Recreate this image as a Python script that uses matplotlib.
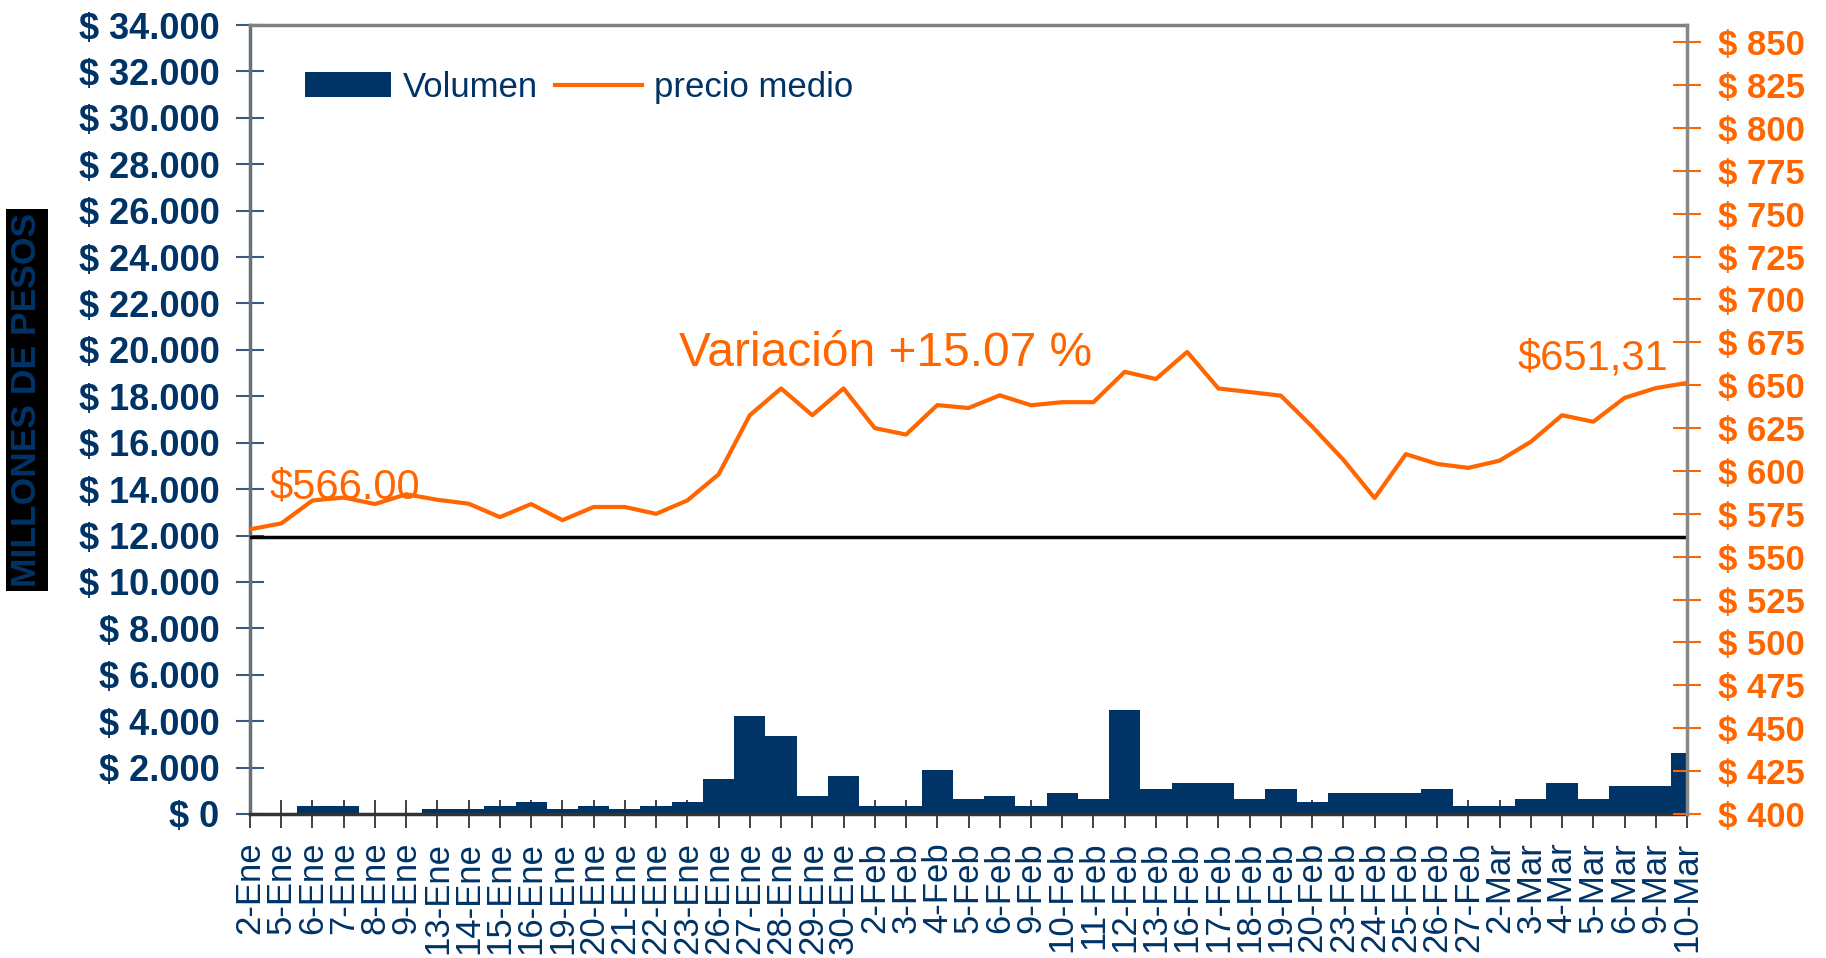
import numpy as np
import matplotlib.pyplot as plt
from matplotlib.patches import Patch
from matplotlib.lines import Line2D
from matplotlib.ticker import FuncFormatter

plt.rcParams['font.family'] = ['Liberation Sans', 'DejaVu Sans']

fechas = ['2-Ene', '5-Ene', '6-Ene', '7-Ene', '8-Ene', '9-Ene', '13-Ene', '14-Ene',
          '15-Ene', '16-Ene', '19-Ene', '20-Ene', '21-Ene', '22-Ene', '23-Ene',
          '26-Ene', '27-Ene', '28-Ene', '29-Ene', '30-Ene',
          '2-Feb', '3-Feb', '4-Feb', '5-Feb', '6-Feb', '9-Feb', '10-Feb', '11-Feb',
          '12-Feb', '13-Feb', '16-Feb', '17-Feb', '18-Feb', '19-Feb', '20-Feb',
          '23-Feb', '24-Feb', '25-Feb', '26-Feb', '27-Feb',
          '2-Mar', '3-Mar', '4-Mar', '5-Mar', '6-Mar', '9-Mar', '10-Mar']

# millones de pesos
volumen = [0, 0, 355, 355, 0, 0, 213, 213, 355, 496, 213, 355, 213, 355, 496,
           1500, 4230, 3360, 780, 1630,
           355, 355, 1910, 650, 780, 355, 920, 650, 4500, 1060, 1350, 1350, 650,
           1060, 496, 920, 920, 920, 1060, 355,
           355, 650, 1350, 650, 1200, 1200, 2650]

precio = [566.0, 569.4, 582.8, 584.5, 580.7, 586.4, 583.2, 580.9, 573.1, 580.7,
          571.3, 579.0, 579.0, 575.0, 582.8, 598.0, 632.5, 648.1, 632.5, 648.1,
          625.0, 621.2, 638.4, 636.7, 644.1, 638.3, 640.1, 640.1, 657.8, 653.6,
          669.4, 648.1, 646.0, 643.9, 625.9, 606.5, 584.2, 609.8, 604.1, 601.8,
          606.0, 617.0, 632.5, 628.7, 642.6, 648.3, 651.31]

NAVY = '#003366'
ORANGE = '#FF6600'

fig = plt.figure(figsize=(18.26, 9.58), dpi=100)
ax = fig.add_axes([250 / 1826, 1 - 814 / 958, 1437 / 1826, 789 / 958])
x = np.arange(len(fechas))

ax.bar(x, volumen, width=1.0, color=NAVY, linewidth=0, zorder=2)
ax.axhline(11950, color='black', lw=2.5, zorder=3)
ax.set_xlim(0, len(fechas) - 1)
ax.set_ylim(0, 34000)
ax.set_yticks(np.arange(0, 34001, 2000))
ax.yaxis.set_major_formatter(
    FuncFormatter(lambda v, p: '$ ' + f'{int(v):,}'.replace(',', '.')))
ax.set_xticks(x)
ax.set_xticklabels(fechas, rotation=90, color=NAVY, fontsize=25)
ax.tick_params(axis='x', direction='inout', length=20, width=1.2, color='#222222', pad=10)
ax.tick_params(axis='y', direction='inout', length=20, width=1.5, color='#3a5a80',
               labelcolor=NAVY, labelsize=26, pad=12)
for lab in ax.get_yticklabels():
    lab.set_fontweight('bold')

ax.spines['left'].set_color('#66707a')
ax.spines['left'].set_linewidth(2.5)
ax.spines['top'].set_color('#808080')
ax.spines['top'].set_linewidth(2.5)
ax.spines['bottom'].set_color('#333333')
ax.spines['bottom'].set_linewidth(2.5)
ax.spines['right'].set_visible(False)

ax2 = ax.twinx()
ax2.plot(x, precio, color=ORANGE, lw=3, zorder=4)
ax2.set_ylim(400, 860)
ax2.set_yticks(np.arange(400, 851, 25))
ax2.yaxis.set_major_formatter(FuncFormatter(lambda v, p: f'$ {int(v)}'))
ax2.tick_params(axis='y', direction='inout', length=20, width=1.5, color=ORANGE,
                labelcolor=ORANGE, labelsize=25, pad=12)
for lab in ax2.get_yticklabels():
    lab.set_fontweight('bold')
for s in ['left', 'top', 'bottom']:
    ax2.spines[s].set_visible(False)
ax2.spines['right'].set_color('#888888')
ax2.spines['right'].set_linewidth(2.5)

ax2.text(0.64, 584, '$566.00', color=ORANGE, fontsize=30, ha='left', va='baseline')
ax2.text(13.73, 661, 'Variación +15.07 %', color=ORANGE, fontsize=34.5,
         ha='left', va='baseline')
ax2.text(45.4, 659, '$651,31', color=ORANGE, fontsize=30, ha='right', va='baseline')

handles = [Patch(facecolor=NAVY, edgecolor='none', label='Volumen'),
           Line2D([], [], color=ORANGE, lw=3, label='precio medio')]
ax2.legend(handles=handles, loc='upper left', bbox_to_anchor=(0.038, 0.942), ncol=2,
           frameon=False, fontsize=25, labelcolor=NAVY, handlelength=2.5,
           handleheight=0.7, handletextpad=0.33, columnspacing=0.5,
           borderaxespad=0, borderpad=0)

fig.text(27 / 1826, 1 - 400 / 958, 'MILLONES DE PESOS', rotation=90, color=NAVY,
         fontweight='bold', fontsize=25.5, ha='center', va='center',
         bbox=dict(facecolor='black', edgecolor='none', pad=3))

fig.savefig('out.png', dpi=100)
